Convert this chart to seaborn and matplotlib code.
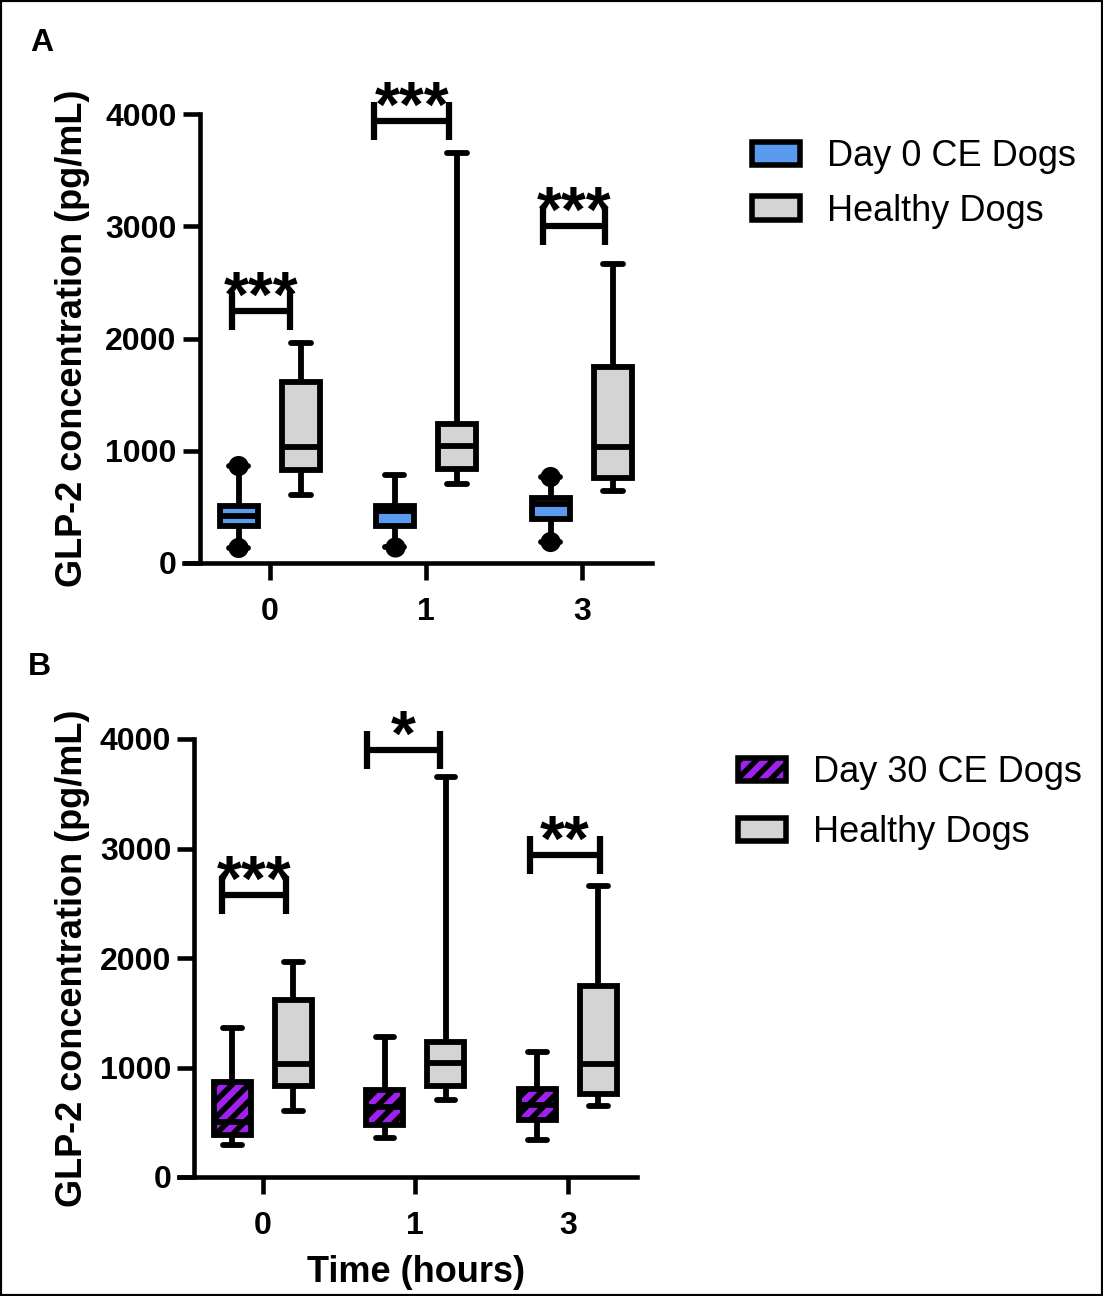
import numpy as np
import pandas as pd
import seaborn as sns
import matplotlib.pyplot as plt
from matplotlib.colors import to_rgb
from matplotlib.patches import Patch, Rectangle

times = ["0", "1", "3"]
healthy_label = "Healthy Dogs"
day0_label = "Day 0 CE Dogs"
day30_label = "Day 30 CE Dogs"

# five-number summaries (min, Q1, median, Q3, max), pg/mL
healthy_min = [605, 703, 645]
healthy_q1 = [830, 835, 757]
healthy_med = [1033, 1040, 1030]
healthy_q3 = [1615, 1235, 1745]
healthy_max = [1960, 3650, 2660]

day0_min = [134, 143, 187]
day0_q1 = [330, 330, 392]
day0_med = [423, 463, 525]
day0_q3 = [508, 508, 578]
day0_max = [864, 784, 766]
# single dogs shown as dots at the whisker ends (day 0)
day0_dot_time = ["0", "0", "1", "3", "3"]
day0_dot_value = [864, 134, 143, 766, 187]

day30_min = [292, 356, 338]
day30_q1 = [384, 475, 520]
day30_med = [502, 639, 658]
day30_q3 = [868, 795, 804]
day30_max = [1361, 1279, 1142]

# significance labels and bracket heights (pg/mL)
sig_a = ["***", "***", "***"]
sig_b = ["***", "*", "**"]
bracket_a_y = [2245, 3935, 3000]
bracket_b_y = [2575, 3900, 2940]
bracket_a_x = [(-0.24, 0.13), (-0.33, 0.15), (-0.25, 0.15)]
bracket_b_x = [(-0.27, 0.15), (-0.315, 0.16), (-0.25, 0.21)]

blue = "#5A9BEF"
grey = "#D4D4D4"
purple = "#A020F0"

sns.set_style("ticks")
plt.rcParams["font.family"] = ["Liberation Sans", "DejaVu Sans"]
plt.rcParams.update({
    "text.color": "black", "axes.labelcolor": "black", "axes.edgecolor": "black",
    "xtick.color": "black", "ytick.color": "black",
    "hatch.linewidth": 4.0, "hatch.color": "#262626",
})


def five_number_frame(mins, q1s, meds, q3s, maxs, label):
    rows = []
    for t, *vals in zip(times, mins, q1s, meds, q3s, maxs):
        for v in vals:
            rows.append({"time": t, "group": label, "value": v})
    return pd.DataFrame(rows)


def draw_panel(ax, df, hue_order, palette, sig, bracket_x, bracket_y):
    sns.boxplot(data=df, x="time", y="value", hue="group", order=times,
                hue_order=hue_order, palette=palette, saturation=1,
                whis=(0, 100), width=0.8, gap=0.39, linecolor="black",
                linewidth=4.2, legend=False, ax=ax)

    for i, (stars, (x0, x1), y) in enumerate(zip(sig, bracket_x, bracket_y)):
        ax.plot([i + x0, i + x1], [y, y], color="black", lw=4.5, clip_on=False,
                solid_capstyle="butt")
        for xe in (i + x0, i + x1):
            ax.plot([xe, xe], [y - 170, y + 170], color="black", lw=4.5,
                    clip_on=False, solid_capstyle="butt")
        ax.annotate(stars, (i + (x0 + x1) / 2, y), xytext=(0, -4),
                    textcoords="offset points", ha="center", va="baseline",
                    fontsize=46, fontweight="bold", annotation_clip=False)

    sns.despine(ax=ax)
    ax.set_xlim(-0.55, 2.45)
    ax.set_ylim(0, 4000)
    ax.set_yticks([0, 1000, 2000, 3000, 4000])
    ax.spines["left"].set_position(("data", -0.45))
    ax.spines["left"].set_bounds(0, 4000)
    for side in ("left", "bottom"):
        ax.spines[side].set_linewidth(3.3)
    ax.tick_params(width=3.3, length=12.5, labelsize=23)
    ax.tick_params(axis="x", pad=12)
    ax.tick_params(axis="y", pad=4)
    plt.setp(ax.get_xticklabels() + ax.get_yticklabels(), fontweight="bold")
    ax.set_xlabel("")
    ax.set_ylabel("GLP-2 concentration (pg/mL)", fontsize=26, fontweight="bold")


fig = plt.figure(figsize=(11.03, 12.96), dpi=100)
ax_a = fig.add_axes([184 / 1103, 1 - 563 / 1296, 468 / 1103, 449 / 1296])
ax_b = fig.add_axes([179 / 1103, 1 - 1177 / 1296, 457.5 / 1103, 438 / 1296])

# panel A: day 0 vs healthy
df_a = pd.concat([five_number_frame(day0_min, day0_q1, day0_med, day0_q3, day0_max, day0_label),
                  five_number_frame(healthy_min, healthy_q1, healthy_med, healthy_q3,
                                    healthy_max, healthy_label)])
draw_panel(ax_a, df_a, [day0_label, healthy_label], {day0_label: blue, healthy_label: grey},
           sig_a, bracket_a_x, bracket_a_y)
dots = pd.DataFrame({"time": day0_dot_time, "value": day0_dot_value, "group": day0_label})
sns.stripplot(data=dots, x="time", y="value", hue="group", order=times,
              hue_order=[day0_label, healthy_label], dodge=True, jitter=False,
              palette={day0_label: "black", healthy_label: "black"}, size=14.5,
              linewidth=0, legend=False, zorder=5, ax=ax_a)
ax_a.set_xlim(-0.55, 2.45)
ax_a.set_xlabel("")
ax_a.yaxis.set_label_coords(-0.20, 0.5)

# panel B: day 30 vs healthy
df_b = pd.concat([five_number_frame(day30_min, day30_q1, day30_med, day30_q3, day30_max, day30_label),
                  five_number_frame(healthy_min, healthy_q1, healthy_med, healthy_q3,
                                    healthy_max, healthy_label)])
draw_panel(ax_b, df_b, [day30_label, healthy_label], {day30_label: purple, healthy_label: grey},
           sig_b, bracket_b_x, bracket_b_y)
for patch in ax_b.patches:
    if np.allclose(patch.get_facecolor()[:3], to_rgb(purple), atol=0.02):
        patch.set_hatch("//")
ax_b.yaxis.set_label_coords(-0.195, 0.5)
ax_b.set_xlabel("Time (hours)", fontsize=26, fontweight="bold")
ax_b.xaxis.set_label_coords((416 - 179) / 457.5, -0.178)

legend_kw = dict(loc="upper left", bbox_transform=fig.transFigure, frameon=False,
                 fontsize=26, handlelength=1.33, handleheight=0.62, handletextpad=0.75,
                 borderpad=0, borderaxespad=0)
ax_a.legend(handles=[Patch(facecolor=blue, edgecolor="black", linewidth=4),
                     Patch(facecolor=grey, edgecolor="black", linewidth=4)],
            labels=[day0_label, healthy_label], bbox_to_anchor=(752 / 1103, 1 - 139 / 1296),
            labelspacing=0.55, **legend_kw)
ax_b.legend(handles=[Patch(facecolor=purple, edgecolor="black", linewidth=4, hatch="//"),
                     Patch(facecolor=grey, edgecolor="black", linewidth=4)],
            labels=[day30_label, healthy_label], bbox_to_anchor=(738 / 1103, 1 - 755 / 1296),
            labelspacing=0.7, **legend_kw)

fig.text(30 / 1103, 1 - 43 / 1296, "A", fontsize=23, fontweight="bold", va="center")
fig.text(28 / 1103, 1 - 667 / 1296, "B", fontsize=23, fontweight="bold", va="center")
fig.patches.append(Rectangle((0, 0), 1, 1, transform=fig.transFigure, fill=False,
                             edgecolor="black", linewidth=3))

fig.savefig("out.png", dpi=100)
